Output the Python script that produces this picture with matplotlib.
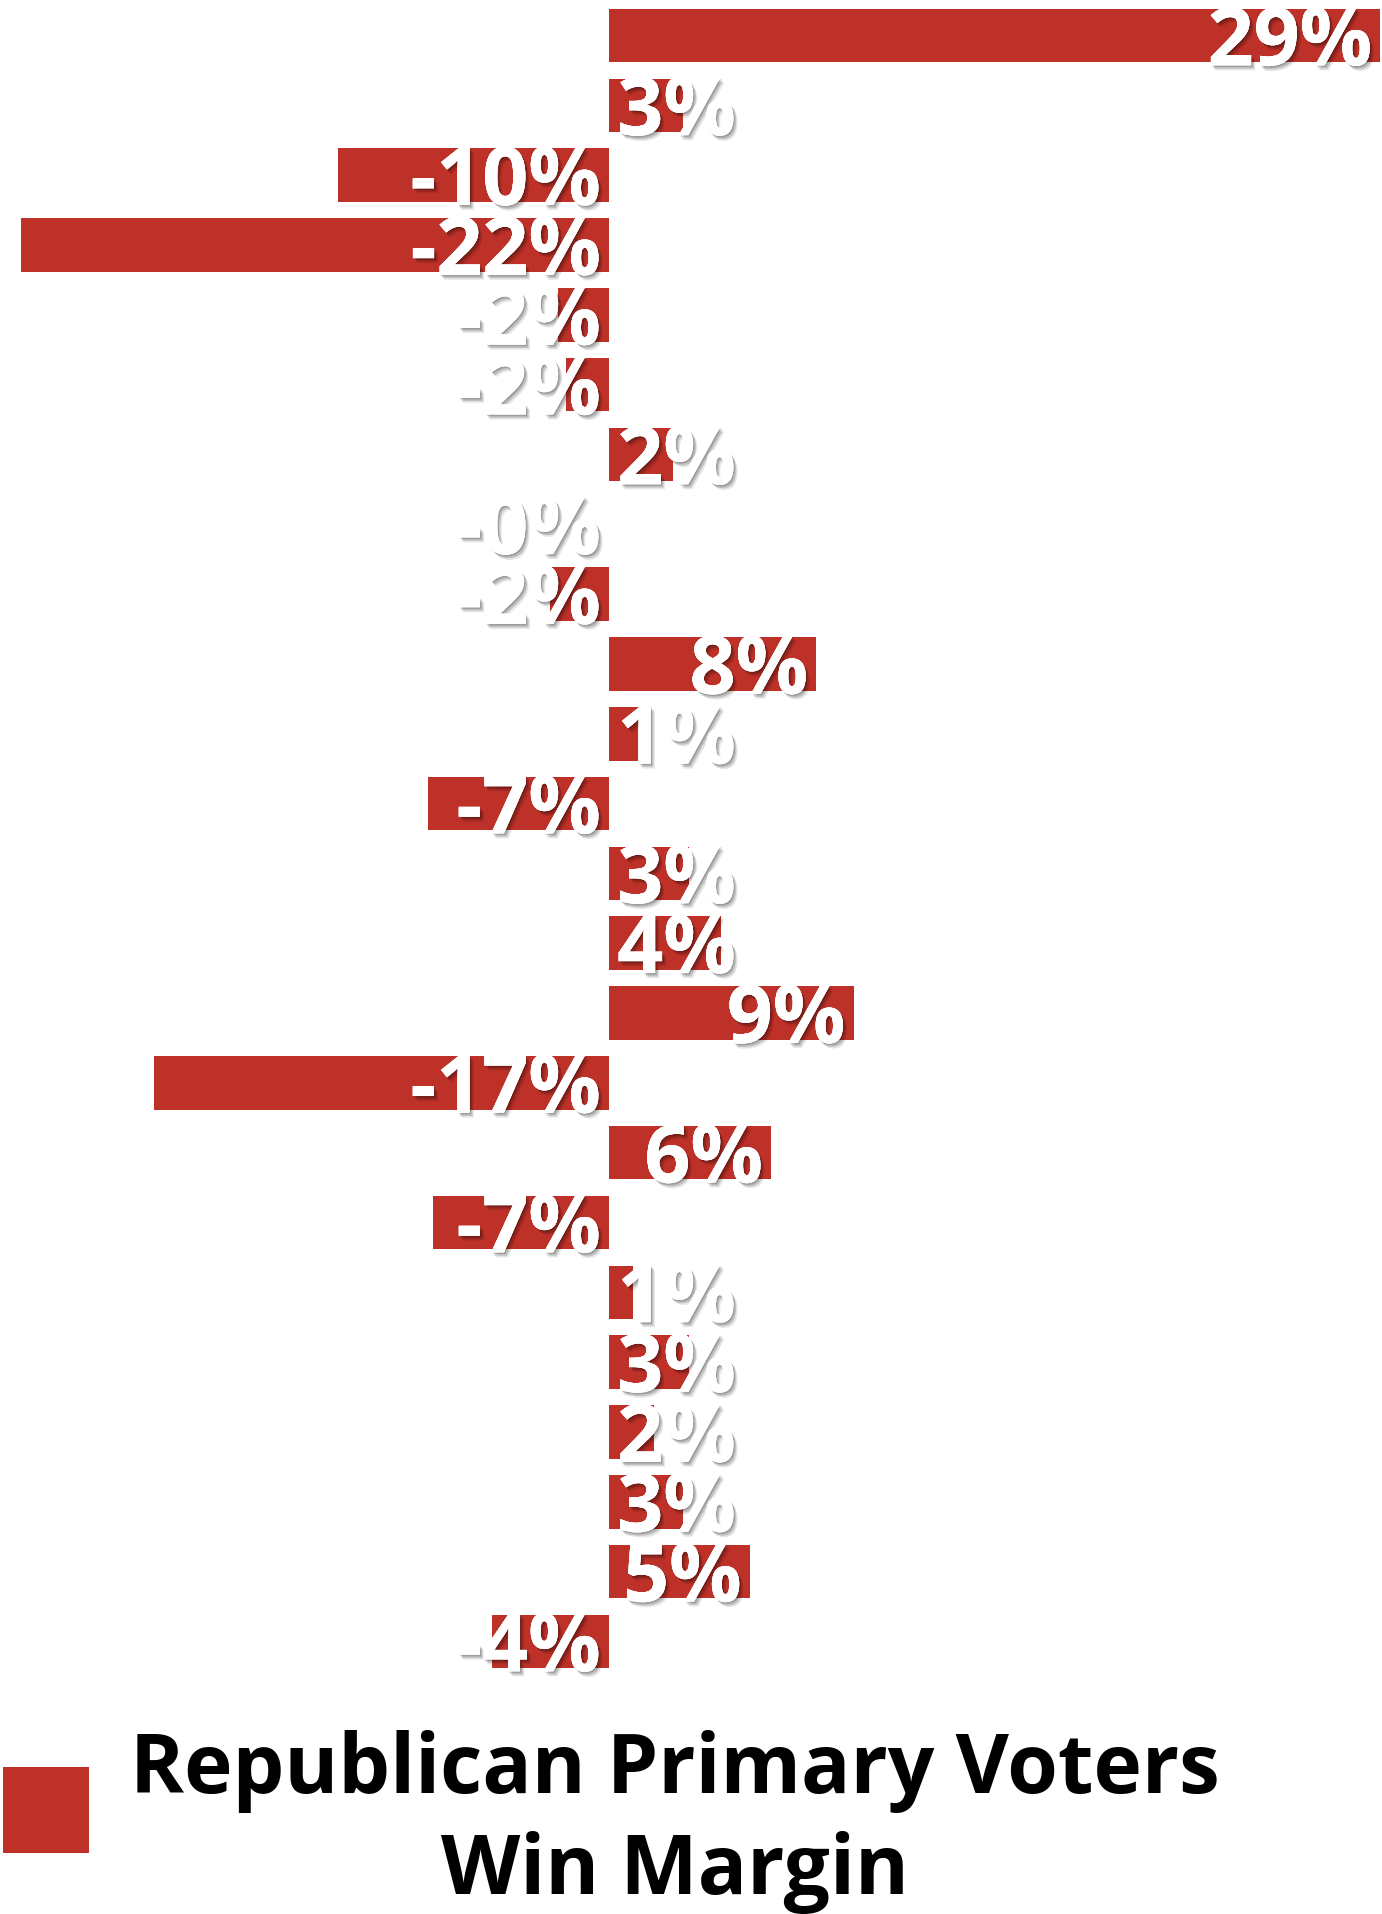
import matplotlib

matplotlib.use("Agg")
import matplotlib.patheffects as pe
from matplotlib import pyplot as plt
from matplotlib.patches import Rectangle

# win margin per row (top to bottom)
margins = [29.0, 2.8, -10.2, -22.1, -1.9, -1.6, 2.4, -0.004, -2.2, 7.8, 1.3, -6.8,
           3.0, 4.2, 9.2, -17.1, 6.1, -6.6, 0.9, 3.0, 1.7, 2.8, 5.3, -4.4]
seriesName = ["Republican Primary Voters", "Win Margin"]

barColor = "#BE3128"
fontName = "Open Sans"
W, H, DPI = 1382, 1915, 100

plt.rcParams["font.family"] = [fontName, "DejaVu Sans"]

fig = plt.figure(figsize=(W / DPI, H / DPI), dpi=DPI)
# zero line sits at x=609 px, 26.6 px per point of margin
pxPerUnit = 26.6
zeroPx = 609
ax = fig.add_axes([0, 1 - 1677.4 / H, 1, (1677.4 - 1.6) / H])
ax.set_xlim(-zeroPx / pxPerUnit, (W - zeroPx) / pxPerUnit)
ax.set_ylim(len(margins) - 0.5, -0.5)
ax.axis("off")

rows = list(range(len(margins)))
barHeight = 0.766
ax.barh(rows, margins, height=barHeight, color=barColor, linewidth=0)

shadow = [
    pe.withSimplePatchShadow(offset=(1.0, -1.2), shadow_rgbFace="black", alpha=0.18),
    pe.withSimplePatchShadow(offset=(2.0, -2.4), shadow_rgbFace="black", alpha=0.16),
    pe.withSimplePatchShadow(offset=(3.0, -3.6), shadow_rgbFace="black", alpha=0.10),
    pe.Normal(),
]

fig.canvas.draw()
renderer = fig.canvas.get_renderer()
padPt = 6.0
for i, v in enumerate(margins):
    label = f"{v:.0f}%"
    yBase = i + barHeight / 2
    x = 0 if v < 0 else v
    t = ax.annotate(label, xy=(x, yBase), xytext=(-padPt, -2.2), textcoords="offset points",
                    ha="right", va="baseline", color="white", fontsize=58,
                    fontweight="bold", path_effects=shadow)
    if v >= 0:
        width = t.get_window_extent(renderer).width
        barPx = v * pxPerUnit
        if width + 2 * padPt * DPI / 72 > barPx:
            t.xy = (0, yBase)
            t.set_position((padPt, -2.2))
            t.set_ha("left")

# legend
fig.patches.append(Rectangle((3 / W, 1 - 1854 / H), 86 / W, 86 / H,
                             transform=fig.transFigure, color=barColor, linewidth=0))
fig.text(675 / W, 1 - 1793 / H, seriesName[0], ha="center", va="baseline",
         fontsize=59, fontweight="bold", color="black")
fig.text(675 / W, 1 - 1894 / H, seriesName[1], ha="center", va="baseline",
         fontsize=59, fontweight="bold", color="black")

fig.savefig("out.png", dpi=DPI, facecolor="white")
